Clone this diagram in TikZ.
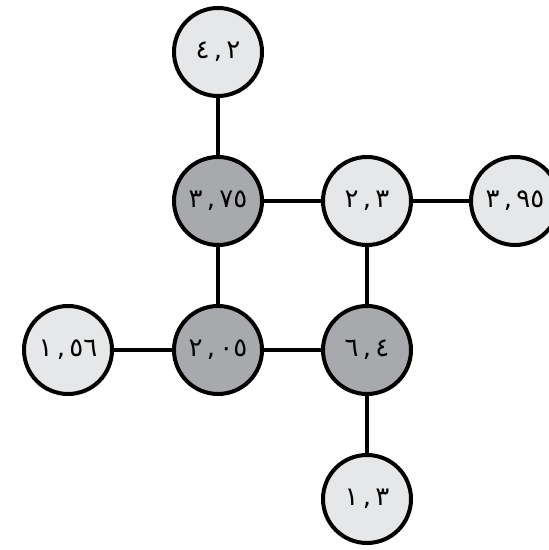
\documentclass[tikz,border=0pt]{standalone}
\usepackage{fontspec}
\newfontfamily\arabicfont[Script=Arabic]{DejaVu Sans}
\usetikzlibrary{shadows}
\definecolor{lightdisc}{HTML}{E6E7E8}
\definecolor{darkdisc}{HTML}{A7A9AC}
\tikzset{
  disc/.style={circle, draw=black, line width=4pt, minimum size=88pt,
    inner sep=0pt, font=\arabicfont\fontsize{26}{28}\selectfont,
    drop shadow={opacity=0.25, shadow xshift=1.5pt, shadow yshift=-1.5pt}},
  lightbox/.style={disc, fill=lightdisc},
  darkbox/.style={disc, fill=darkdisc},
  edge/.style={line width=3.3pt}
}
\begin{document}
\begin{tikzpicture}[x=1pt,y=1pt]
  % Fix the page to the size of the reference
  \useasboundingbox (0,0) rectangle (549,550);

  % Draw the light circles
  \foreach \n/\x/\y/\t in {t/218/498/{٤\,,\,٢}, r/367/349/{٢\,,\,٣},
  rr/515/349/{٣\,,\,٩٥}, ll/68/200/{١\,,\,٥٦}, bb/367/51/{١\,,\,٣}}
  \node[lightbox] (\n) at (\x,\y) {\t};

  % Draw the dark circles
  \foreach \n/\x/\y/\t in {c/218/349/{٣\,,\,٧٥}, l/218/200/{٢\,,\,٠٥},
  b/367/200/{٦\,,\,٤}}
  \node[darkbox] (\n) at (\x,\y) {\t};

  % Join the circles
  \foreach \a/\b in {t/c, c/r, r/rr, c/l, r/b, ll/l, l/b, b/bb}
  \draw[edge] (\a) -- (\b);
\end{tikzpicture}
\end{document}
